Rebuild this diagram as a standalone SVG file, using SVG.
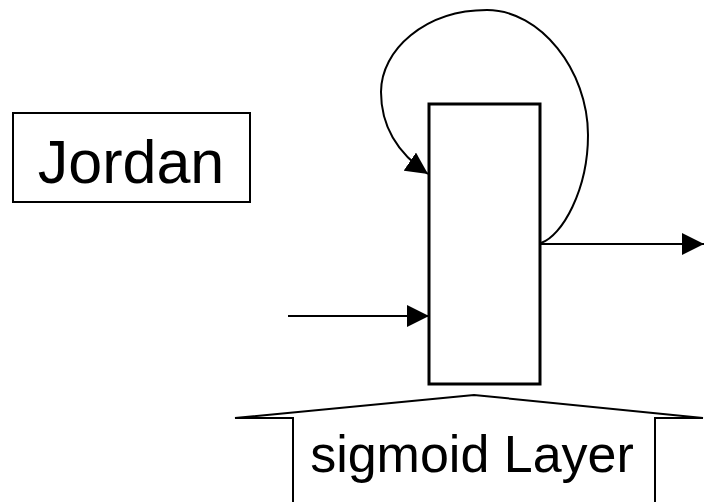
<svg xmlns="http://www.w3.org/2000/svg" width="704" height="502" viewBox="0 0 704 502">
<style>
.ln{fill:none;stroke:#000;stroke-width:2}
.bx{fill:#fff;stroke:#000;stroke-width:3}
.tx{font-family:"Liberation Sans",Arial,sans-serif;fill:#000}
</style>
<defs>
<marker id="ah" viewBox="0 0 22 22" refX="22" refY="11" markerWidth="22" markerHeight="22" markerUnits="userSpaceOnUse" orient="auto">
<path d="M0,0 L22,11 L0,22 Z" fill="#000"/>
</marker>
</defs>
<rect width="704" height="502" fill="#fff"/>
<g id="jordan">
<rect x="13" y="113" width="237" height="89" fill="#fff" stroke="#000" stroke-width="2"/>
<text class="tx" x="131" y="183" font-size="61" text-anchor="middle">Jordan</text>
</g>
<g id="neuron">
<rect class="bx" x="429" y="104" width="111" height="280"/>
</g>
<g id="layer">
<path class="ln" d="M293,502 L293,418 L235,418 L474,395 L703,418 L655,418 L655,502"/>
<text class="tx" x="472" y="472" font-size="52" text-anchor="middle">sigmoid Layer</text>
</g>
<g id="connectors">
<path class="ln" d="M288,316 L429,316" marker-end="url(#ah)"/>
<path class="ln" d="M540,244 L704,244" marker-end="url(#ah)"/>
<path class="ln" stroke-width="3" d="M541,243 C562,236 588,190 588,135 C588,70 540,10 487,10 C425,10 381,50 381,92 C381,128 400,155 428,174" marker-end="url(#ah)"/>
</g>
</svg>
